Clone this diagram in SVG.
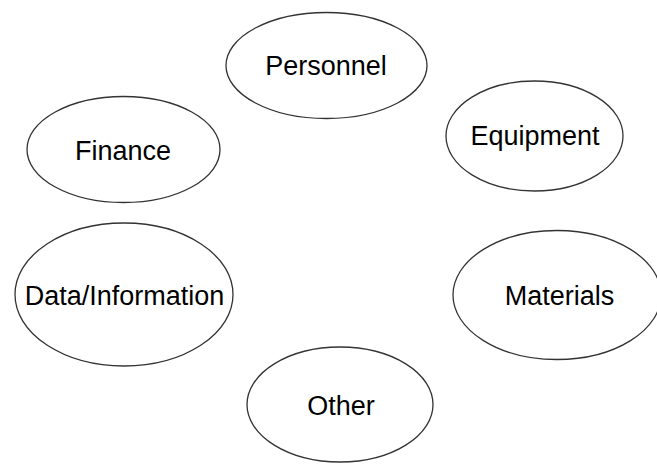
<svg xmlns="http://www.w3.org/2000/svg" width="657" height="464" viewBox="0 0 657 464">
  <style>
    .node ellipse { fill: #ffffff; stroke: #333333; stroke-width: 1.3; }
    .node text { font-family: "Liberation Sans", Arial, sans-serif; font-size: 27px; fill: #000000; text-anchor: middle; }
  </style>
  <rect width="657" height="464" fill="#ffffff"/>
  <g id="connectors"></g>
  <g id="personnel" class="node">
    <ellipse cx="326.5" cy="65.5" rx="100.5" ry="53"/>
    <text x="326" y="75">Personnel</text>
  </g>
  <g id="finance" class="node">
    <ellipse cx="123.5" cy="149.5" rx="96.5" ry="53"/>
    <text x="123" y="160">Finance</text>
  </g>
  <g id="equipment" class="node">
    <ellipse cx="534.5" cy="136" rx="88.5" ry="55"/>
    <text x="535" y="145">Equipment</text>
  </g>
  <g id="data-information" class="node">
    <ellipse cx="124" cy="294.5" rx="109" ry="71.5"/>
    <text x="124.5" y="305">Data/Information</text>
  </g>
  <g id="materials" class="node">
    <ellipse cx="557" cy="295" rx="104" ry="64.5"/>
    <text x="559.5" y="305">Materials</text>
  </g>
  <g id="other" class="node">
    <ellipse cx="340" cy="404.5" rx="93" ry="57.5"/>
    <text x="341" y="415">Other</text>
  </g>
</svg>
